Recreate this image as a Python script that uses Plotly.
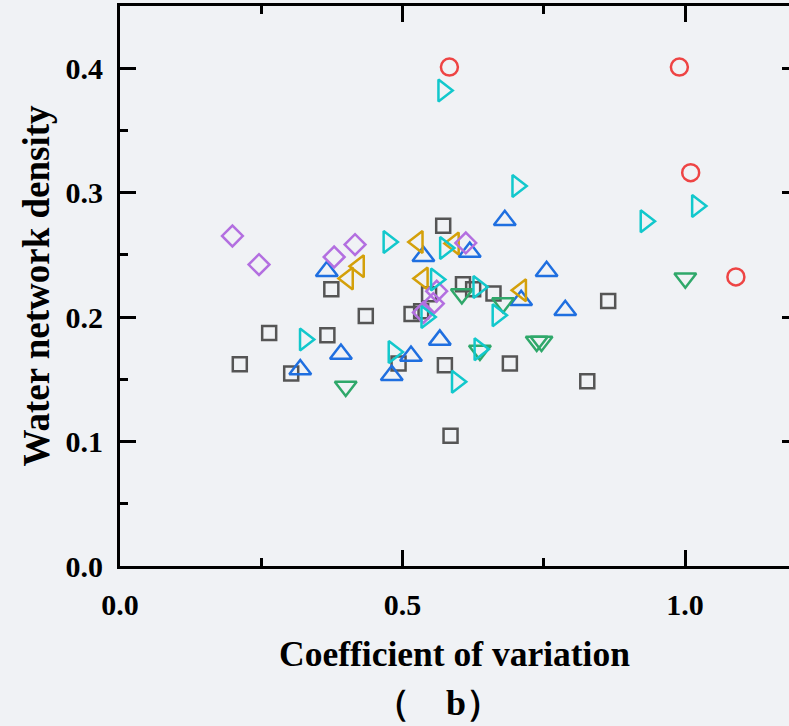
import plotly.graph_objects as go

# ---- data ----
sq_x = [0.572, 0.374, 0.435, 0.264, 0.367, 0.212, 0.303, 0.607, 0.625, 0.661,
        0.864, 0.547, 0.533, 0.516, 0.493, 0.575, 0.690, 0.827, 0.585]
sq_y = [0.2734, 0.2224, 0.2009, 0.1873, 0.1855, 0.1622, 0.1547, 0.2264, 0.2224, 0.2189,
        0.2130, 0.2184, 0.2047, 0.2025, 0.1627, 0.1614, 0.1627, 0.1485, 0.1046]

ci_x = [0.583, 0.990, 1.010, 1.090]
ci_y = [0.4009, 0.4009, 0.3161, 0.2323]

tr_x = [0.572, 0.703, 0.930, 1.021, 0.475, 0.575, 0.559, 0.634, 0.668, 0.542,
        0.327, 0.484, 0.636, 0.596]
tr_y = [0.3821, 0.3053, 0.2770, 0.2893, 0.2604, 0.2555, 0.2302, 0.2242, 0.2015, 0.2001,
        0.1820, 0.1720, 0.1742, 0.1480]

tu_x = [0.366, 0.681, 0.537, 0.619, 0.755, 0.710, 0.788, 0.566, 0.391, 0.515, 0.319, 0.481]
tu_y = [0.2368, 0.2778, 0.2489, 0.2523, 0.2368, 0.2135, 0.2055, 0.1817, 0.1704, 0.1688, 0.1579, 0.1533]

td_x = [0.3995, 1.0005, 0.605, 0.678, 0.7375, 0.746, 0.637]
td_y = [0.1443, 0.2312, 0.2186, 0.2114, 0.1804, 0.1804, 0.1732]

tl_x = [0.423, 0.4035, 0.527, 0.591, 0.536, 0.710]
tl_y = [0.2409, 0.2310, 0.2604, 0.2591, 0.2310, 0.2216]

di_x = [0.199, 0.246, 0.379, 0.416, 0.612, 0.5605, 0.5545, 0.537]
di_y = [0.2652, 0.2422, 0.2483, 0.2583, 0.2596, 0.2208, 0.2109, 0.2037]

x_ticks = [0.0, 0.5, 1.0]
x_ticklabels = ["0.0", "0.5", "1.0"]
y_ticks = [0.0, 0.1, 0.2, 0.3, 0.4]
y_ticklabels = ["0.0", "0.1", "0.2", "0.3", "0.4"]

x_title = "Coefficient of variation"
y_title = "Water network density"
panel_label = "（　b）"

# ---- figure ----
BG = "#F0F2F5"
FONT = "Liberation Serif"
LW = 2.5

series = [
    (sq_x, sq_y, "square-open", "#555555", 14),
    (tu_x, tu_y, "triangle-up-open", "#1F6FE0", 19),
    (td_x, td_y, "triangle-down-open", "#2FA86A", 19),
    (tl_x, tl_y, "triangle-left-open", "#D4A00A", 19),
    (di_x, di_y, "diamond-open", "#B36FE0", 16),
    (tr_x, tr_y, "triangle-right-open", "#12C8CC", 19),
    (ci_x, ci_y, "circle-open", "#EE4444", 17),
]

fig = go.Figure()
for xs, ys, sym, col, sz in series:
    fig.add_trace(go.Scatter(
        x=xs, y=ys, mode="markers", showlegend=False,
        marker=dict(symbol=sym, size=sz, color=col, line=dict(width=LW, color=col)),
        cliponaxis=False,
    ))

# helper trace for right-side tick marks
fig.add_trace(go.Scatter(x=[], y=[], yaxis="y2", showlegend=False, hoverinfo="skip"))

tickfont = dict(family=FONT, size=30, color="black", weight="bold")
xtitlefont = dict(family=FONT, size=35.5, color="black", weight="bold")
ytitlefont = dict(family=FONT, size=37, color="black", weight="bold")

fig.update_layout(
    width=789, height=726,
    margin=dict(l=120, r=0, t=6, b=160),
    paper_bgcolor=BG, plot_bgcolor=BG,
    xaxis=dict(
        range=[0, 1.184], tickvals=x_ticks, ticktext=x_ticklabels,
        ticks="inside", ticklen=16, tickwidth=3, tickcolor="black",
        minor=dict(dtick=0.25, ticks="inside", ticklen=8, tickwidth=3, tickcolor="black"),
        showline=True, linewidth=3, linecolor="black", mirror="ticks",
        showgrid=False, zeroline=False, tickfont=tickfont,
        ticklabelstandoff=10,
        title=dict(text=x_title, font=xtitlefont, standoff=22),
    ),
    yaxis=dict(
        range=[0, 0.45], tickvals=y_ticks, ticktext=y_ticklabels,
        ticks="inside", ticklen=16, tickwidth=3, tickcolor="black",
        minor=dict(dtick=0.05, ticks="inside", ticklen=8, tickwidth=3, tickcolor="black"),
        showline=True, linewidth=3, linecolor="black", mirror=False,
        showgrid=False, zeroline=False, tickfont=tickfont,
        ticklabelstandoff=8,
        title=dict(text=y_title, font=ytitlefont, standoff=5),
    ),
    yaxis2=dict(
        range=[0, 0.45], overlaying="y", side="right", tickvals=y_ticks,
        ticks="inside", ticklen=7, tickwidth=3, tickcolor="black",
        showticklabels=False, showline=False, showgrid=False, zeroline=False,
    ),
    annotations=[dict(
        text=panel_label, xref="paper", yref="paper", x=0.476, y=-0.2444,
        xanchor="center", yanchor="middle", showarrow=False,
        font=dict(family=FONT, size=36, color="black", weight="bold"),
    )],
)

fig.write_html("out.html")
